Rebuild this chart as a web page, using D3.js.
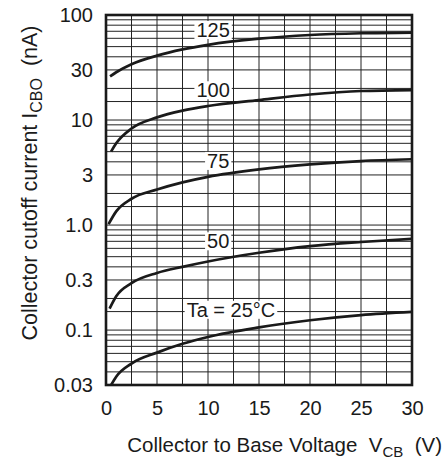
<!DOCTYPE html>
<html>
<head>
<meta charset="utf-8">
<script src="https://cdn.jsdelivr.net/npm/d3@7"></script>
<style>
  html, body { margin: 0; padding: 0; background: #fff; }
  svg { display: block; }
  text { font-family: "Liberation Sans", Arial, sans-serif; fill: #1a1a1a; white-space: pre; }
</style>
</head>
<body>
<svg id="chart" width="447" height="470"></svg>
<script>
// ---- data ----
const xTicks = [0, 5, 10, 15, 20, 25, 30];
const yTicks = [100, 30, 10, 3, 1, 0.3, 0.1, 0.03];
const yTickLabels = ["100", "30", "10", "3", "1.0", "0.3", "0.1", "0.03"];

const vcb125 = [0.4, 1, 2.5, 5, 7.5, 10, 15, 20, 25, 30];
const icbo125 = [26, 28.5, 34, 41, 47, 52, 59.5, 64.5, 67, 68];

const vcb100 = [0.5, 1, 2.5, 5, 7.5, 10, 15, 20, 25, 30];
const icbo100 = [5.0, 6.0, 8.3, 10.6, 12.3, 13.6, 15.5, 17.5, 18.9, 19.3];

const vcb75 = [0.25, 1, 2.5, 5, 7.5, 10, 15, 20, 25, 30];
const icbo75 = [1.02, 1.35, 1.78, 2.18, 2.55, 2.88, 3.39, 3.78, 4.07, 4.23];

const vcb50 = [0.35, 1, 2.5, 5, 7.5, 10, 15, 20, 25, 30];
const icbo50 = [0.16, 0.21, 0.28, 0.35, 0.40, 0.45, 0.545, 0.63, 0.69, 0.74];

const vcb25 = [0.5, 1, 2.5, 5, 7.5, 10, 15, 20, 25, 30];
const icbo25 = [0.03, 0.036, 0.048, 0.061, 0.074, 0.086, 0.106, 0.124, 0.139, 0.149];

const curveLabels = ["125", "100", "75", "50", "Ta = 25°C"];
const labelX = [10.5, 10.5, 11, 11, 12.25];
const labelY = [72, 19.2, 4.08, 0.70, 0.156];

// ---- layout ----
const svg = d3.select("#chart");
const mLeft = 106, mRight = 412, mTop = 15, mBottom = 385;
const FS = 20;

const x = d3.scaleLinear().domain([0, 30]).range([mLeft, mRight]);
const y = d3.scaleLog().domain([0.03, 100]).range([mBottom, mTop]);

// grid: vertical every 2.5 V
const vGrid = d3.range(2.5, 30, 2.5);
// horizontal: 1, 1.5, 2..9 per decade
const hGrid = [];
[0.01, 0.1, 1, 10].forEach(d => {
  [1, 1.5, 2, 3, 4, 5, 6, 7, 8, 9].forEach(m => {
    const v = +(m * d).toPrecision(6);
    if (v > 0.03 && v < 100) hGrid.push(v);
  });
});

const grid = svg.append("g").attr("stroke", "#222").attr("stroke-width", 1);
grid.selectAll("line.v").data(vGrid).join("line")
  .attr("x1", d => x(d)).attr("x2", d => x(d))
  .attr("y1", mTop).attr("y2", mBottom);
grid.selectAll("line.h").data(hGrid).join("line")
  .attr("x1", mLeft).attr("x2", mRight)
  .attr("y1", d => y(d)).attr("y2", d => y(d));

// curves
const series = [
  [vcb125, icbo125], [vcb100, icbo100], [vcb75, icbo75], [vcb50, icbo50], [vcb25, icbo25]
];
const line = d3.line().x(d => x(d[0])).y(d => y(d[1])).curve(d3.curveMonotoneX);
series.forEach(([xs, ys]) => {
  svg.append("path")
    .datum(xs.map((v, i) => [v, ys[i]]))
    .attr("fill", "none")
    .attr("stroke", "#1a1a1a")
    .attr("stroke-width", 2.7)
    .attr("d", line);
});

// labels with white background
curveLabels.forEach((t, i) => {
  const g = svg.append("g");
  const cy = y(labelY[i]);
  const txt = g.append("text")
    .attr("x", x(labelX[i])).attr("y", cy + 0.358 * FS)
    .attr("text-anchor", "middle")
    .attr("font-size", FS)
    .text(t);
  const bb = txt.node().getBBox();
  g.insert("rect", "text")
    .attr("x", bb.x - 2).attr("y", cy - 9)
    .attr("width", bb.width + 4).attr("height", 18)
    .attr("fill", "#fff");
});

// frame
svg.append("rect")
  .attr("x", mLeft).attr("y", mTop)
  .attr("width", mRight - mLeft).attr("height", mBottom - mTop)
  .attr("fill", "none").attr("stroke", "#1a1a1a").attr("stroke-width", 2.6);

// axes (labels only)
const yAxis = d3.axisLeft(y).tickValues(yTicks)
  .tickFormat((d, i) => yTickLabels[i]).tickSize(0).tickPadding(13);
svg.append("g").attr("transform", `translate(${mLeft},0)`).call(yAxis)
  .call(g => g.select(".domain").remove())
  .selectAll("text").attr("font-size", FS).attr("fill", "#1a1a1a")
  .style("font-family", '"Liberation Sans", Arial, sans-serif');

const xAxis = d3.axisBottom(x).tickValues(xTicks).tickSize(0).tickPadding(16);
svg.append("g").attr("transform", `translate(0,${mBottom})`).call(xAxis)
  .call(g => g.select(".domain").remove())
  .selectAll("text").attr("font-size", FS).attr("fill", "#1a1a1a")
  .style("font-family", '"Liberation Sans", Arial, sans-serif');

// axis titles
const xt = svg.append("text")
  .attr("x", 442).attr("y", 452)
  .attr("text-anchor", "end").attr("font-size", 20.5);
xt.append("tspan").text("Collector to Base Voltage  V");
xt.append("tspan").attr("font-size", 15).attr("dy", 5).text("CB");
xt.append("tspan").attr("dy", -5).text("  (V)");

const yt = svg.append("text")
  .attr("transform", "translate(37,183) rotate(-90)")
  .attr("text-anchor", "middle").attr("font-size", 21.5);
yt.append("tspan").text("Collector cutoff current I");
yt.append("tspan").attr("font-size", 16).attr("dy", 5).text("CBO");
yt.append("tspan").attr("dy", -5).text("  (nA)");
</script>
</body>
</html>
